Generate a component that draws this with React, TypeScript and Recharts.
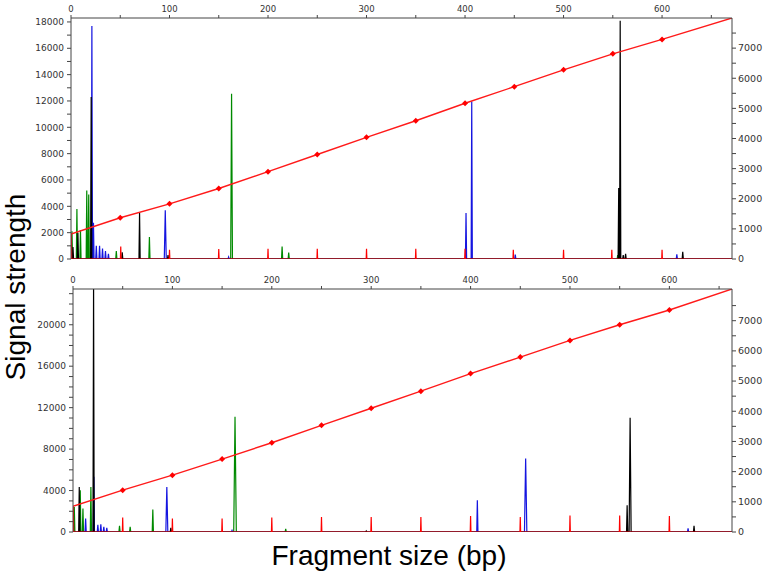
import React from 'react';
import { ComposedChart, Line, XAxis, YAxis } from 'recharts';

// [fragment size (bp), signal, optional half width]
type Peak = [number, number, number?];

const TICK_FONT = "'DejaVu Sans', Tahoma, sans-serif";
const TITLE_FONT = "'Liberation Sans', Arial, sans-serif";

const BP_TICKS = [0, 50, 100, 150, 200, 250, 300, 350, 400, 450, 500, 550, 600, 650];
const LADDER_BP = [50, 100, 150, 200, 250, 300, 350, 400, 450, 500, 550, 600];

// top panel
const TOP_X_MAX = 671;
const TOP_Y_MAX = 18300;
const TOP_Y_TICKS = [0, 1000, 2000, 3000, 4000, 5000, 6000, 7000, 8000, 9000, 10000, 11000, 12000, 13000, 14000, 15000, 16000, 17000, 18000];
const TOP_R_MAX = 8000;
const TOP_R_TICKS = [0, 500, 1000, 1500, 2000, 2500, 3000, 3500, 4000, 4500, 5000, 5500, 6000, 6500, 7000, 7500];
const TOP_LADDER_SCAN = [1370, 1830, 2340, 2900, 3470, 4040, 4590, 5170, 5720, 6280, 6810, 7290];
const TOP_LINE_START = 830;
const TOP_LINE_END = 8000;

const TOP_GREEN: Peak[] = [[1, 2100], [6, 3800], [9.6, 2200], [16, 5200], [18, 4900], [46, 600], [79.6, 1670], [163, 12550, 0.9], [214.3, 950], [221, 480], [555, 300]];
const TOP_BLUE: Peak[] = [[21.2, 17700], [22.8, 2750], [25.7, 1000], [29, 1000], [32, 800], [35, 600], [38, 400], [95.7, 3700, 1], [160, 150], [401, 3490], [406.8, 11950], [451, 330], [615, 350]];
const TOP_BLACK: Peak[] = [[2, 900], [7, 2000], [20.5, 12300], [52, 500], [69.6, 3500], [98.5, 300], [556, 5400], [557.5, 18100], [560.6, 300], [563, 400], [621, 550]];
const TOP_RED: Peak[] = [[0.3, 1900], [50.5, 950], [100, 700], [150, 750], [200, 780], [250, 780], [300, 780], [350, 780], [400, 780], [449, 700], [500, 700], [549, 700], [600, 700]];

// bottom panel
const BOT_X_MAX = 663;
const BOT_Y_MAX = 23450;
const BOT_Y_TICKS = [0, 1000, 2000, 3000, 4000, 5000, 6000, 7000, 8000, 9000, 10000, 11000, 12000, 13000, 14000, 15000, 16000, 17000, 18000, 19000, 20000, 21000, 22000, 23000];
const BOT_R_MAX = 8050;
const BOT_R_TICKS = [0, 500, 1000, 1500, 2000, 2500, 3000, 3500, 4000, 4500, 5000, 5500, 6000, 6500, 7000, 7500];
const BOT_LADDER_SCAN = [1385, 1884, 2415, 2957, 3535, 4100, 4664, 5249, 5794, 6346, 6867, 7355];
const BOT_LINE_START = 850;
const BOT_LINE_END = 8050;

const BOT_GREEN: Peak[] = [[1.3, 2400], [7.3, 4030], [10, 2260], [18, 4350], [46.8, 600], [57.5, 500], [80.3, 2170], [163, 11130, 1.3], [214, 300]];
const BOT_BLUE: Peak[] = [[12.7, 1300], [21, 5320], [25, 700], [28, 750], [31, 500], [34, 400], [94.4, 4350, 1], [160, 150], [406.8, 3070], [455.4, 7100, 1.2], [618.8, 350]];
const BOT_BLACK: Peak[] = [[6.3, 4350], [20.7, 24000], [98.4, 400], [295, 100], [557.5, 2580], [560.5, 11030, 1], [624.8, 600]];
const BOT_RED: Peak[] = [[0.3, 2400], [50, 1390], [100, 1300], [150, 1300], [200, 1390], [250, 1450], [300, 1450], [350, 1450], [400, 1550], [450, 1450], [500, 1600], [550, 1600], [600, 1550]];

function trace(peaks: Peak[], xMax: number, halfWidth: number) {
  const pts = [{ x: 0, y: 0 }, { x: xMax, y: 0 }];
  peaks.forEach(([x, h, w = halfWidth]) => {
    pts.push({ x: x - w, y: 0 }, { x, y: h }, { x: x + w, y: 0 });
  });
  return pts.sort((a, b) => a.x - b.x);
}

function sizingLine(scan: number[], start: number, end: number, xMax: number) {
  return [
    { x: 0, y: start, mark: false },
    ...LADDER_BP.map((x, i) => ({ x, y: scan[i], mark: true })),
    { x: xMax, y: end, mark: false },
  ];
}

const LadderDot = (p: any) =>
  p.payload && p.payload.mark ? (
    <path
      key={p.index}
      d={`M${p.cx},${p.cy - 3}L${p.cx + 3},${p.cy}L${p.cx},${p.cy + 3}L${p.cx - 3},${p.cy}Z`}
      fill="#ff0000"
    />
  ) : (
    <g key={p.index} />
  );

interface PanelProps {
  top: number;
  height: number;
  leftWidth: number;
  xMax: number;
  yMax: number;
  yTicks: number[];
  yStep: number;
  rMax: number;
  rTicks: number[];
  green: Peak[];
  blue: Peak[];
  black: Peak[];
  red: Peak[];
  scan: number[];
  lineStart: number;
  lineEnd: number;
}

const Panel: React.FC<PanelProps> = (p) => {
  const tickStyle = { fontSize: 9, fill: '#333', fontFamily: TICK_FONT };
  const series = [
    { peaks: p.green, color: '#008a00', w: 0.6 },
    { peaks: p.blue, color: '#1515e0', w: 0.6 },
    { peaks: p.black, color: '#000000', w: 0.6 },
    { peaks: p.red, color: '#ff0000', w: 0.35 },
  ];
  return (
    <div style={{ position: 'absolute', left: 0, top: p.top }}>
      <ComposedChart width={767} height={p.height} margin={{ top: 0, right: 0, bottom: 10, left: 0 }}>
        <XAxis
          type="number"
          dataKey="x"
          orientation="top"
          domain={[0, p.xMax]}
          allowDataOverflow
          ticks={BP_TICKS}
          interval={0}
          height={18}
          tickSize={3}
          tickMargin={3}
          stroke="#444"
          tick={{ ...tickStyle, fontSize: 8.5 }}
          tickFormatter={(v: number) => (v % 100 === 0 ? String(v) : '')}
        />
        <YAxis
          yAxisId="L"
          type="number"
          domain={[0, p.yMax]}
          allowDataOverflow
          ticks={p.yTicks}
          interval={0}
          width={p.leftWidth}
          tickSize={4}
          tickMargin={3}
          stroke="#444"
          tick={tickStyle}
          tickFormatter={(v: number) => (v % p.yStep === 0 ? String(v) : '')}
        />
        <YAxis
          yAxisId="R"
          orientation="right"
          type="number"
          domain={[0, p.rMax]}
          allowDataOverflow
          ticks={p.rTicks}
          interval={0}
          width={35}
          tickSize={4}
          tickMargin={2}
          stroke="#444"
          tick={{ ...tickStyle, fontSize: 9.5 }}
          tickFormatter={(v: number) => (v % 1000 === 0 ? String(v) : '')}
        />
        {series.map((s, i) => (
          <Line
            key={i}
            yAxisId="L"
            data={trace(s.peaks, p.xMax, s.w)}
            dataKey="y"
            type="linear"
            stroke={s.color}
            strokeWidth={1.2}
            dot={false}
            isAnimationActive={false}
          />
        ))}
        <Line
          yAxisId="R"
          data={sizingLine(p.scan, p.lineStart, p.lineEnd, p.xMax)}
          dataKey="y"
          type="linear"
          stroke="#ff1a1a"
          strokeWidth={1.4}
          dot={LadderDot}
          isAnimationActive={false}
        />
      </ComposedChart>
    </div>
  );
};

export default function App() {
  return (
    <div style={{ position: 'absolute', left: 0, top: 0, width: 767, height: 575, background: '#fff', overflow: 'hidden' }}>
      <Panel
        top={0}
        height={269}
        leftWidth={71}
        xMax={TOP_X_MAX}
        yMax={TOP_Y_MAX}
        yTicks={TOP_Y_TICKS}
        yStep={2000}
        rMax={TOP_R_MAX}
        rTicks={TOP_R_TICKS}
        green={TOP_GREEN}
        blue={TOP_BLUE}
        black={TOP_BLACK}
        red={TOP_RED}
        scan={TOP_LADDER_SCAN}
        lineStart={TOP_LINE_START}
        lineEnd={TOP_LINE_END}
      />
      <Panel
        top={271}
        height={271}
        leftWidth={73}
        xMax={BOT_X_MAX}
        yMax={BOT_Y_MAX}
        yTicks={BOT_Y_TICKS}
        yStep={4000}
        rMax={BOT_R_MAX}
        rTicks={BOT_R_TICKS}
        green={BOT_GREEN}
        blue={BOT_BLUE}
        black={BOT_BLACK}
        red={BOT_RED}
        scan={BOT_LADDER_SCAN}
        lineStart={BOT_LINE_START}
        lineEnd={BOT_LINE_END}
      />
      <svg width={767} height={575} style={{ position: 'absolute', left: 0, top: 0, pointerEvents: 'none' }}>
        <text
          transform="translate(25,287) rotate(-90)"
          textAnchor="middle"
          fontFamily={TITLE_FONT}
          fontSize={28}
          fill="#000"
        >
          Signal strength
        </text>
        <text x={389} y={565} textAnchor="middle" fontFamily={TITLE_FONT} fontSize={28} fill="#000">
          Fragment size (bp)
        </text>
      </svg>
    </div>
  );
}
